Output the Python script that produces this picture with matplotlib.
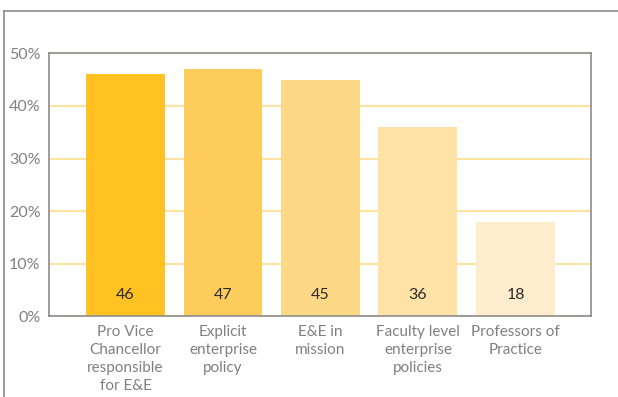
import matplotlib
matplotlib.use("Agg")
import matplotlib.pyplot as plt
from matplotlib.lines import Line2D

categories = ["Pro Vice\nChancellor\nresponsible\nfor E&E",
              "Explicit\nenterprise\npolicy",
              "E&E in\nmission",
              "Faculty level\nenterprise\npolicies",
              "Professors of\nPractice"]
values = [46, 47, 45, 36, 18]
bar_colors = ["#FFC222", "#FECC5B", "#FDD886", "#FEE2A6", "#FEEDCD"]
yticks = [0, 10, 20, 30, 40, 50]
ytick_labels = ["0%", "10%", "20%", "30%", "40%", "50%"]

plt.rcParams['font.family'] = ['Lato', 'DejaVu Sans']

fig = plt.figure(figsize=(6.18, 3.97), dpi=100)
ax = fig.add_axes([0.0793, 0.2033, 0.877, 0.6624])

x = range(len(values))
ax.bar(x, values, width=0.81, color=bar_colors, zorder=2)
for i, v in enumerate(values):
    ax.text(i, 4.1, str(v), ha='center', va='center', fontsize=11.5, color='#2b2b2b', zorder=3)

ax.set_xlim(-0.785, 4.775)
ax.set_ylim(0, 50)
ax.set_yticks(yticks)
ax.set_yticklabels(ytick_labels, fontsize=11.5)
ax.set_xticks(list(x))
ax.set_xticklabels(categories, linespacing=1.38, fontsize=11)
ax.tick_params(axis='both', length=0, colors='#808080')
ax.tick_params(axis='y', pad=6)
ax.tick_params(axis='x', pad=6)
for t in ax.get_xticklabels():
    t.set_verticalalignment('top')

ax.grid(axis='y', color='#FDE3A0', linewidth=1.5, zorder=1)
ax.set_axisbelow(True)
for s in ax.spines.values():
    s.set_color('#8C8C8C')
    s.set_linewidth(1.2)

# outer frame (top and left edges only visible)
fig.add_artist(Line2D([4 / 618, 1.0], [1 - 11 / 397, 1 - 11 / 397], color='#8C8C8C', linewidth=1.2))
fig.add_artist(Line2D([4 / 618, 4 / 618], [1 - 11 / 397, 0.0], color='#8C8C8C', linewidth=1.2))

fig.savefig("out.png", dpi=100)
